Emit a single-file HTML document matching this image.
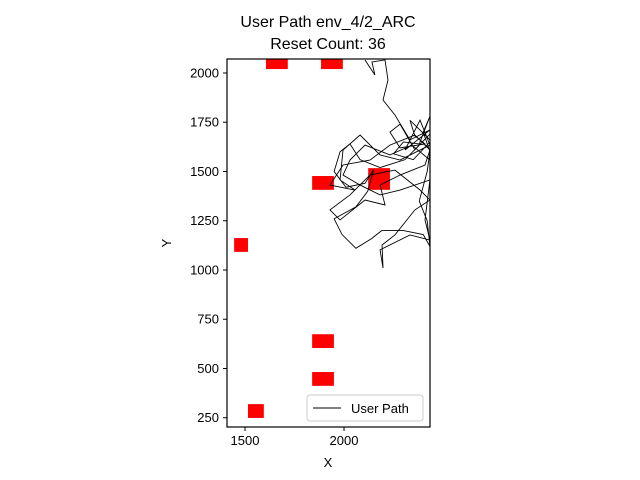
<!DOCTYPE html>
<html><head><meta charset="utf-8"><style>body{margin:0;background:#fff}svg{display:block;font-family:"Liberation Sans",sans-serif}</style></head>
<body>
<svg id="c" width="640" height="480">
<text x="328" y="27" text-anchor="middle" font-size="16">User Path env_4/2_ARC</text>
<text x="328" y="49" text-anchor="middle" font-size="16">Reset Count: 36</text>
<text x="328" y="467" text-anchor="middle" font-size="13">X</text>
<text x="171" y="243" text-anchor="middle" font-size="13" transform="rotate(-90 171 243)">Y</text>
<defs><clipPath id="clip"><rect x="227" y="59" width="203" height="368"/></clipPath></defs>
<g id="marks" clip-path="url(#clip)"></g>
<g id="axes"></g>
<rect x="227" y="59" width="203" height="368" fill="none" stroke="#000" stroke-width="1.2"/>
<g>
<rect x="307" y="395" width="116" height="26" rx="3" fill="#fff" stroke="#ccc"/>
<line x1="313" y1="408" x2="341" y2="408" stroke="#000" stroke-width="1"/>
<text x="351" y="413" font-size="13">User Path</text>
</g>
</svg>
<script>
const xTicks=[1500,2000];
const yTicks=[250,500,750,1000,1250,1500,1750,2000];
const pathX=[2106,2156,2141,2207,2222,2197,2257,2333,2434,2308,2384,2434,2283,2182,2081,1995,1980,2055,1929,1995,2131,2232,2358,2434,2409,2283,2182,2207,2106,1980,1929,2030,2131,2257,2384,2434,2358,2257,2192,2197,2182,2333,2434,2409,2434,2283,2182,2081,1995,2030,2106,2232,2343,2434,
2434,2384,2333,2358,2409,2283,2232,2283,2358,2434,2308,2182,2081,2030,1980,1950,2010,2106,2150,2120,2060,1950,1990,2060,2140,2190,2300,2400,2434,2420,2380,2420,2434,2400,2434,2380,2300,2250,2350,2434];
const pathY=[2066,1990,2056,2066,1964,1863,1787,1660,1711,1609,1761,1634,1558,1584,1685,1609,1457,1406,1431,1533,1558,1634,1685,1609,1533,1482,1431,1330,1355,1254,1305,1381,1482,1507,1406,1355,1305,1178,1127,1010,1102,1178,1152,1254,1457,1406,1381,1431,1482,1558,1634,1584,1634,1558,
1660,1710,1760,1680,1640,1620,1700,1740,1610,1690,1560,1520,1560,1640,1600,1500,1420,1440,1510,1400,1320,1260,1180,1110,1160,1200,1200,1180,1120,1250,1350,1500,1600,1700,1780,1640,1650,1590,1560,1650];
const resetX=[1661,1939,1894,2177,1480,1894,1894,1555];
const resetY=[2055,2055,1442,1462,1127,639,447,284];
const resetW=[110,110,110,110,70,110,110,80];
const resetH=[70,70,70,110,70,70,70,70];
const sx=v=>227+(v-1409)*0.198;
const sy=v=>59+(2071-v)*0.197;
const NS="http://www.w3.org/2000/svg";
const marks=document.getElementById('marks'),axes=document.getElementById('axes');
for(let i=0;i<resetX.length;i++){
 const r=document.createElementNS(NS,'rect');
 const w=resetW[i]*0.198,h=resetH[i]*0.197;
 r.setAttribute('x',sx(resetX[i])-w/2);r.setAttribute('y',sy(resetY[i])-h/2);
 r.setAttribute('width',w);r.setAttribute('height',h);r.setAttribute('fill','#ff0000');
 
 
 marks.appendChild(r);
}
const p=document.createElementNS(NS,'polyline');
p.setAttribute('points',pathX.map((x,i)=>sx(x)+','+sy(pathY[i])).join(' '));
p.setAttribute('fill','none');p.setAttribute('stroke','#000');p.setAttribute('stroke-width','0.9');


marks.appendChild(p);
xTicks.forEach(v=>{
 const x=sx(v);
 const l=document.createElementNS(NS,'line');
 l.setAttribute('x1',x);l.setAttribute('x2',x);l.setAttribute('y1',427);l.setAttribute('y2',431);l.setAttribute('stroke','#000');
 
 
 axes.appendChild(l);
 const t=document.createElementNS(NS,'text');
 t.setAttribute('x',x);t.setAttribute('y',445);t.setAttribute('text-anchor','middle');t.setAttribute('font-size','13');t.textContent=v;
 
 
 axes.appendChild(t);
});
yTicks.forEach(v=>{
 const y=sy(v);
 const l=document.createElementNS(NS,'line');
 l.setAttribute('x1',223);l.setAttribute('x2',227);l.setAttribute('y1',y);l.setAttribute('y2',y);l.setAttribute('stroke','#000');
 
 
 axes.appendChild(l);
 const t=document.createElementNS(NS,'text');
 t.setAttribute('x',219);t.setAttribute('y',y+4.5);t.setAttribute('text-anchor','end');t.setAttribute('font-size','13');t.textContent=v;
 
 
 axes.appendChild(t);
});
</script>
</body></html>
